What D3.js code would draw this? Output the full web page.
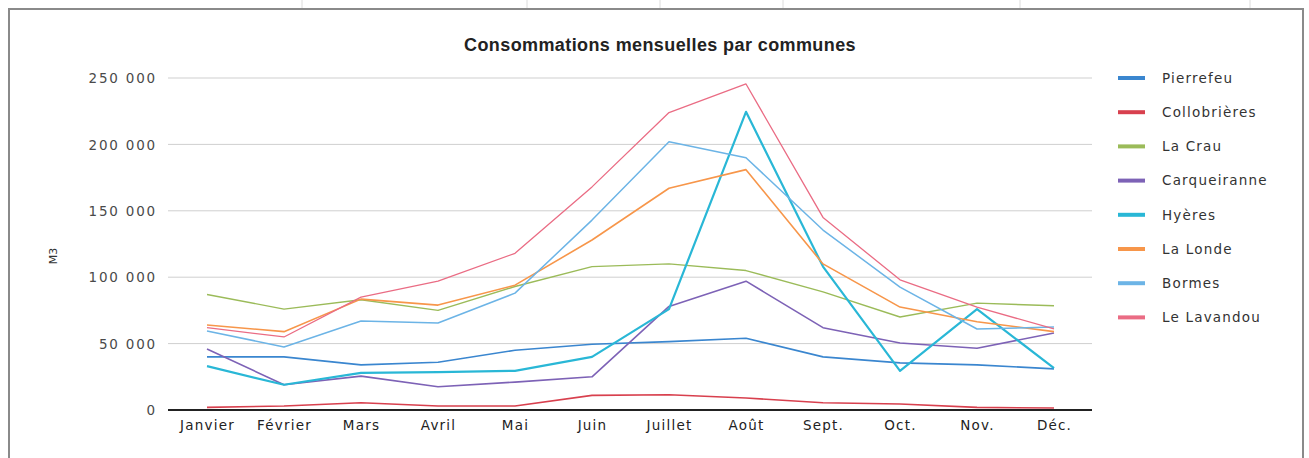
<!DOCTYPE html>
<html><head><meta charset="utf-8">
<script src="https://cdn.jsdelivr.net/npm/d3@7"></script>
<style>
html,body{margin:0;padding:0;background:#fff;}
svg{display:block;}
</style></head>
<body>
<script>
const months = ["Janvier","Février","Mars","Avril","Mai","Juin","Juillet","Août","Sept.","Oct.","Nov.","Déc."];
const yTicks = [0,50000,100000,150000,200000,250000];
const communes = ["Pierrefeu","Collobrières","La Crau","Carqueiranne","Hyères","La Londe","Bormes","Le Lavandou"];
const pierrefeu    = [40000,40000,34000,36000,45000,49500,51500,54000,40000,35500,34000,31000];
const collobrieres = [2000,3000,5500,3000,3000,11000,11500,9000,5500,4500,2000,1500];
const laCrau       = [87000,76000,83000,75000,93000,108000,110000,105000,89000,70000,80500,78500];
const carqueiranne = [46000,19000,25500,17500,21000,25000,78000,97000,62000,50500,46500,58000];
const hyeres       = [33000,19000,28000,28500,29500,40000,76000,224500,108000,29500,76000,31500];
const laLonde      = [64000,59000,83500,79000,94000,128000,167000,181000,110000,77500,66500,59000];
const bormes       = [59500,47500,67000,65500,88000,143000,202000,190000,135500,92500,61000,62500];
const leLavandou   = [62000,55000,85000,97000,118000,168000,224000,245500,145000,98000,77500,61000];
const seriesValues = [pierrefeu,collobrieres,laCrau,carqueiranne,hyeres,laLonde,bormes,leLavandou];
const colors = ["#3a86cf","#d8404e","#9bbb59","#7d62b6","#29b7d6","#f7964a","#6cb4e6","#ea6c84"];
const widths = [1.6,1.6,1.4,1.6,2.2,1.6,1.5,1.3];

const W=1309,H=458;
const svg=d3.select("body").append("svg").attr("width",W).attr("height",H);

// spreadsheet background lines above the frame
svg.selectAll(".cell").data([302,527,660,783,1020,1250]).enter().append("line")
  .attr("x1",d=>d).attr("x2",d=>d).attr("y1",0).attr("y2",8)
  .attr("stroke","#dcdcdc").attr("stroke-width",1);

// frame
svg.append("rect").attr("x",9).attr("y",9).attr("width",1294).attr("height",470)
  .attr("fill","#fff").attr("stroke","#8a8a8a").attr("stroke-width",2);

const x=d3.scalePoint().domain(months).range([207,1054]);
const y=d3.scaleLinear().domain([0,250000]).range([410,78]);

const fmt=d=>d3.format(",")(d).replace(/,/g," ");

// gridlines
svg.append("g").selectAll("line").data(yTicks.filter(d=>d>0)).enter().append("line")
  .attr("x1",168).attr("x2",1092).attr("y1",d=>y(d)).attr("y2",d=>y(d))
  .attr("stroke","#cfcfcf").attr("stroke-width",1);

// y axis labels
const yAxis=d3.axisLeft(y).tickValues(yTicks).tickSize(0).tickPadding(0).tickFormat(fmt);
const ya=svg.append("g").attr("transform","translate(157,0)").call(yAxis);
ya.select(".domain").remove();
ya.selectAll("text").attr("font-family","DejaVu Sans").attr("font-size",13.5)
  .attr("letter-spacing","1.8px").attr("fill","#4a4a4a").attr("dy","0.35em");

// x axis
const xAxis=d3.axisBottom(x).tickSize(0).tickPadding(13);
const xa=svg.append("g").attr("transform","translate(0,410)").call(xAxis);
xa.select(".domain").remove();
xa.selectAll("text").attr("font-family","DejaVu Sans").attr("font-size",13.5)
  .attr("letter-spacing","1.2px").attr("fill","#222").attr("dy","0.5em");
svg.append("line").attr("x1",168).attr("x2",1092).attr("y1",410).attr("y2",410)
  .attr("stroke","#222").attr("stroke-width",2);

// y label
svg.append("text").attr("transform","translate(57,256) rotate(-90)")
  .attr("text-anchor","middle").attr("font-family","DejaVu Sans").attr("font-size",11)
  .attr("fill","#333").text("M3");

// title
svg.append("text").attr("x",660).attr("y",51).attr("text-anchor","middle")
  .attr("font-family","Liberation Sans Narrow, Arial Narrow, sans-serif").attr("font-weight","bold")
  .attr("font-size",18).attr("fill","#222").attr("letter-spacing","0.4px")
  .text("Consommations mensuelles par communes");

// lines
const line=d3.line().x((d,i)=>x(months[i])).y(d=>y(d));
svg.append("g").selectAll("path").data(seriesValues).enter().append("path")
  .attr("d",d=>line(d)).attr("fill","none")
  .attr("stroke",(d,i)=>colors[i]).attr("stroke-width",(d,i)=>widths[i])
  .attr("stroke-linejoin","round");

// legend
const lg=svg.append("g").selectAll("g").data(communes).enter().append("g")
  .attr("transform",(d,i)=>`translate(1118,${78+i*34.2})`);
lg.append("line").attr("x1",0).attr("x2",27).attr("y1",0).attr("y2",0)
  .attr("stroke",(d,i)=>colors[i]).attr("stroke-width",4);
lg.append("text").attr("x",44).attr("y",0).attr("dy","0.35em")
  .attr("font-family","DejaVu Sans").attr("font-size",13.5).attr("letter-spacing","1.2px")
  .attr("fill","#333").text(d=>d);
</script>
</body></html>
